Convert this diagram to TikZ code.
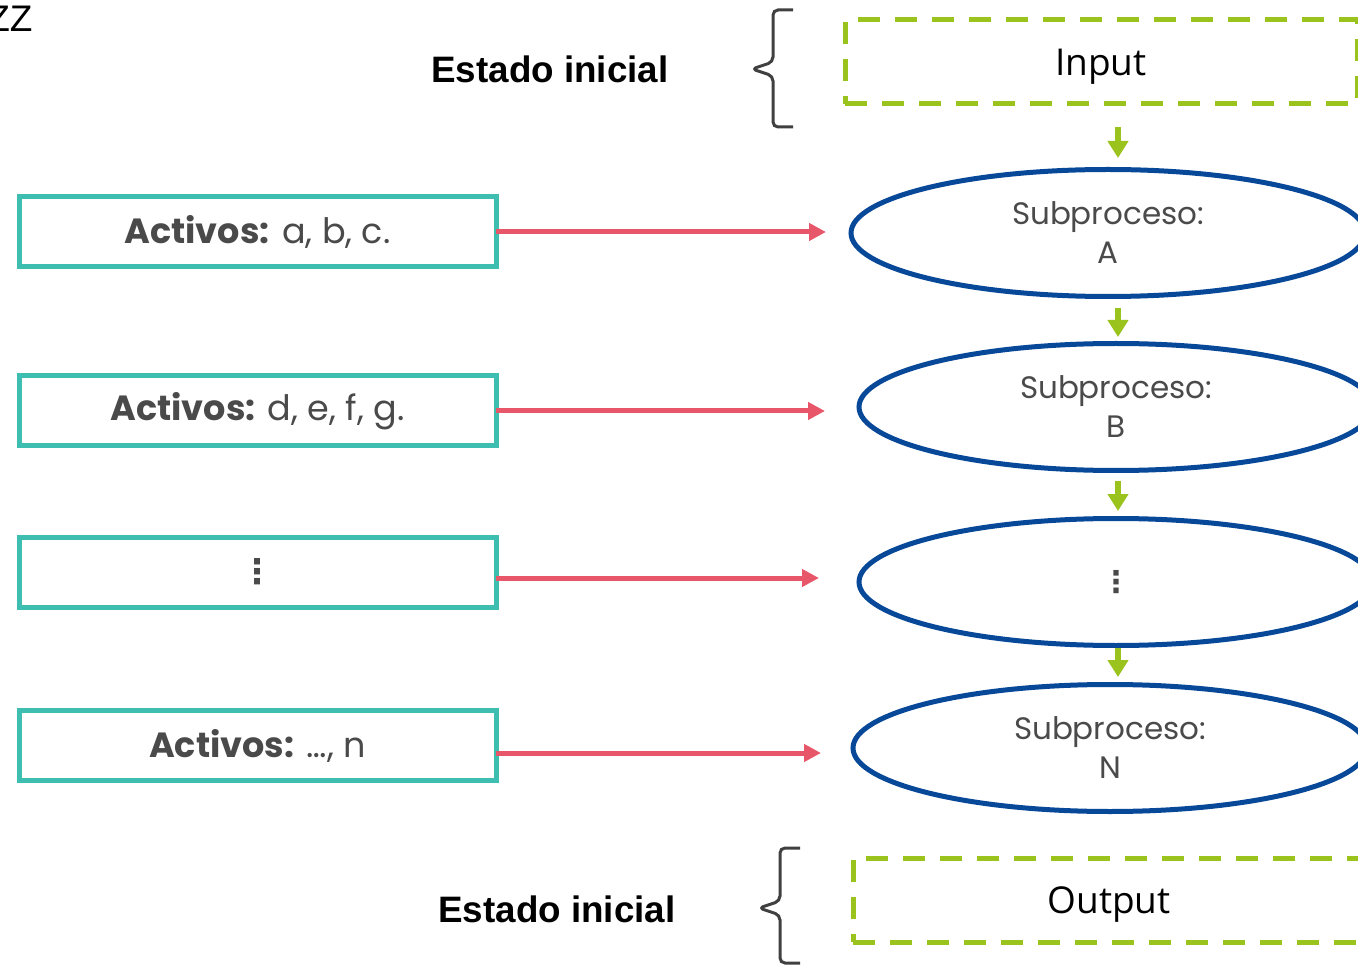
\documentclass[tikz,border=0pt]{standalone}
\usepackage{fontspec}
\usetikzlibrary{shapes.geometric,arrows.meta}

\newfontfamily\montfont{Poppins}
\newfontfamily\segoefont{Open Sans}
\newfontfamily\arialfont{Liberation Sans}
\newfontfamily\dotsfont{DejaVu Sans}

\definecolor{tealbox}{RGB}{62,189,177}
\definecolor{greendash}{RGB}{155,195,30}
\definecolor{bluering}{RGB}{8,72,152}
\definecolor{redarrow}{RGB}{232,86,106}
\definecolor{textgray}{RGB}{74,74,74}
\definecolor{bracegray}{RGB}{64,64,64}

\tikzset{
  activo/.style={draw=tealbox, line width=5pt, minimum width=477pt, minimum height=70pt,
    inner sep=0pt, outer sep=0pt, text=textgray, font=\montfont\fontsize{35}{40}\selectfont},
  subproceso/.style={ellipse, draw=bluering, line width=5pt, minimum width=514pt,
    minimum height=127pt, inner sep=0pt, outer sep=0pt, align=center, text=textgray,
    font=\montfont\fontsize{31}{39}\selectfont},
  estado/.style={anchor=base, font=\arialfont\bfseries\fontsize{36.8}{44}\selectfont},
  dashbox/.style={draw=greendash, line width=5pt, dash pattern=on 22pt off 15pt,
    minimum width=512pt, minimum height=84pt, inner sep=0pt, outer sep=0pt, text depth=0pt,
    font=\segoefont\fontsize{37}{44}\selectfont},
  activoflecha/.style={draw=redarrow, line width=5pt, -{Triangle[length=17pt,width=17pt]}},
  flujo/.style={draw=greendash, line width=6pt, -{Triangle[length=17pt,width=20pt]}},
  llave/.style={draw=bracegray, line width=3pt, rounded corners=5pt}
}

\begin{document}
\begin{tikzpicture}[x=1pt, y=-1pt]

    % Fix the canvas to the size of the reference
    \useasboundingbox (0,0) rectangle (1358,965);

    % Stray label in the top left corner
    \node[anchor=base east, font=\arialfont\fontsize{37}{44}\selectfont] (zz) at (36,32) {ZZ};

    % Labels of the initial and final states
    \node[estado] (est1) at (550,83) {Estado inicial};
    \node[estado] (est2) at (557,922) {Estado inicial};

    % Braces in front of the input and output boxes
    \draw[llave] (793,10) -- (773,10) -- (773,62) -- (752,69) -- (773,76) -- (773,127) -- (793,127);
    \draw[llave] (800,848) -- (780,848) -- (780,901) -- (759,908) -- (780,915) -- (780,963) -- (800,963);

    % Input and output boxes
    \node[dashbox] (in) at (1101,62) {Input};
    \node[dashbox] (out) at (1109,900) {Output};

    % Boxes with the assets of each subprocess
    \node[activo] (a1) at (257.5,232) {\textbf{Activos:} a, b, c.};
    \node[activo] (a2) at (257.5,411) {\textbf{Activos:} d, e, f, g.};
    \node[activo, font=\dotsfont\bfseries\fontsize{34}{40}\selectfont] (a3) at (257.5,572) {⋮};
    \node[activo] (a4) at (257.5,745.5) {\textbf{Activos:} …, n};

    % The chain of subprocesses
    \node[subproceso] (e1) at (1108,233) {Subproceso:\\A};
    \node[subproceso] (e2) at (1116,407) {Subproceso:\\B};
    \node[subproceso, font=\dotsfont\bfseries\fontsize{30}{34}\selectfont] (e3) at (1116,582) {⋮};
    \node[subproceso] (e4) at (1110,748) {Subproceso:\\N};

    % Red arrows from the assets to their subprocess
    \draw[activoflecha, shorten >=25pt] (a1.east) -- (a1.east -| e1.west);
    \draw[activoflecha, shorten >=34pt] (a2.east) -- (a2.east -| e2.west);
    \draw[activoflecha, shorten >=40pt] (a3.east |- 0,578) -- (e3.west |- 0,578);
    \draw[activoflecha, shorten >=32pt] (a4.east |- 0,753) -- (e4.west |- 0,753);

    % Green arrows down the chain
    \coordinate (ax) at (1118,0);
    \draw[flujo, shorten <=23pt, shorten >=11.5pt] (in.south -| ax) -- (e1.north -| ax);
    \draw[flujo, shorten <=11.5pt, shorten >=6.5pt] (e1.south -| ax) -- (e2.north -| ax);
    \draw[flujo, shorten <=10.5pt, shorten >=7.5pt] (e2.south -| ax) -- (e3.north -| ax);
    \draw[flujo, shorten <=2.5pt, shorten >=7.5pt] (e3.south -| ax) -- (e4.north -| ax);

\end{tikzpicture}
\end{document}
